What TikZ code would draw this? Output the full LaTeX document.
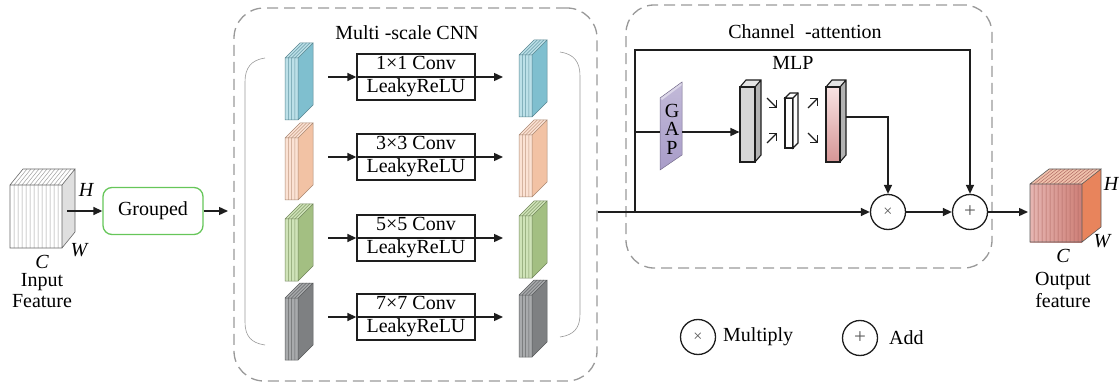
\documentclass[tikz,border=0pt]{standalone}
\usepackage{fontspec}
\setmainfont{Liberation Serif}
\usetikzlibrary{arrows.meta}

\definecolor{blueS}{HTML}{7FBFCF}
\definecolor{blueF}{HTML}{BCE0E8}
\definecolor{peachS}{HTML}{F2C2A4}
\definecolor{peachF}{HTML}{FBE2D4}
\definecolor{greenS}{HTML}{A3BF82}
\definecolor{greenF}{HTML}{CFE3B8}
\definecolor{darkS}{HTML}{7E8082}
\definecolor{darkF}{HTML}{A8AAAC}
\definecolor{frame}{HTML}{999999}
\definecolor{ink}{HTML}{1E1E1E}
\definecolor{gapC}{HTML}{A89CC8}
\definecolor{boxgreen}{HTML}{66C659}
\definecolor{outSide}{HTML}{E8845C}
\definecolor{outTop}{HTML}{F0C2AC}
\definecolor{outL}{HTML}{E6B6B2}
\definecolor{outR}{HTML}{CE7F77}
\definecolor{outLine}{HTML}{B06A64}
\definecolor{pinkT}{HTML}{F8E2E2}
\definecolor{pinkB}{HTML}{D69696}

\tikzset{
  line/.style={draw=ink, line width=1.4pt},
  arr/.style={line, -{Triangle[length=9pt,width=8pt]}},
  dashbox/.style={draw=frame, line width=1.3pt, dash pattern=on 11pt off 6pt,
                  rounded corners=30pt, inner sep=0pt},
  convbox/.style={draw=ink, line width=1.3pt, minimum width=118pt, minimum height=46pt,
                  inner sep=0pt, align=center, font=\fontsize{20}{23}\selectfont},
  lbl/.style={font=\fontsize{20}{22}\selectfont, inner sep=0pt},
  itlbl/.style={font=\fontsize{20}{22}\selectfont\itshape, inner sep=0pt},
  opnode/.style={circle, draw=ink, line width=1.3pt, minimum size=35pt, inner sep=0pt,
                 font=\fontsize{16}{16}\selectfont, text=ink!75},
  plusnode/.style={opnode, font=\fontsize{21}{21}\selectfont},
  tinyarr/.style={draw=ink, line width=1.3pt, -{Straight Barb[length=5pt,width=10pt]}},
  bracket/.style={draw=gray!80, line width=0.6pt},
  pics/slab/.style n args={2}{code={
    \fill[#2] (0,0) rectangle (13,62);
    \fill[#2] (0,0) -- (15,-15) -- (28,-15) -- (13,0) -- cycle;
    \fill[#1] (13,0) -- (28,-15) -- (28,47) -- (13,62) -- cycle;
    \foreach \s in {3.25,6.5,9.75}
      \draw[#1!80!black, line width=0.5pt] (\s,62) -- (\s,0) -- ++(15,-15);
    \draw[#1!70!black, line width=0.5pt] (0,0) rectangle (13,62)
      (0,0) -- (15,-15) -- (28,-15) -- (13,0) (28,-15) -- (28,47) -- (13,62);
  }}
}

\begin{document}
\begin{tikzpicture}[x=1pt, y=-1pt]
\useasboundingbox (0,0) rectangle (1120,385);

% ---------- input feature cube ----------
\fill[white] (10,185) rectangle (62,248);
\fill[white] (10,185) -- (23,169) -- (75,169) -- (62,185) -- cycle;
\fill[gray!25] (62,185) -- (75,169) -- (75,232) -- (62,248) -- cycle;
\foreach \k in {1,...,12}
  \draw[gray!75, line width=0.5pt] (10+4*\k,248) -- (10+4*\k,185) -- (23+4*\k,169);
\draw[gray!80!black, line width=0.6pt] (10,185) rectangle (62,248)
  (10,185) -- (23,169) -- (75,169) -- (62,185) (75,169) -- (75,232) -- (62,248);
\node[coordinate] (incube) at (67,211) {};
\node[itlbl] (inH) at (86,190) {H};
\node[itlbl] (inW) at (79,250) {W};
\node[itlbl] (inC) at (42,262) {C};
\node[lbl] (inTxt1) at (42,282) {Input};
\node[lbl] (inTxt2) at (42,301) {Feature};

% ---------- grouping ----------
\node[draw=boxgreen, line width=1.3pt, rounded corners=9pt, minimum width=100pt,
      minimum height=47pt, lbl] (grp) at (153,211) {Grouped};
\draw[arr] (incube) -- (grp.west);

% ---------- multi-scale CNN ----------
\node[dashbox, minimum width=363pt, minimum height=373pt] (ms) at (415.5,194.5) {};
\node[lbl] (msT) at (407,33) {Multi -scale CNN};
\node[coordinate] (msin) at (228,211) {};
\draw[arr] (grp.east) -- (msin);

\draw[bracket] (265,58) .. controls (251,60) and (245,68) .. (245,82)
  -- (245,322) .. controls (245,336) and (251,343) .. (265,345);
\draw[bracket] (560,52) .. controls (574,54) and (580,62) .. (580,76)
  -- (580,314) .. controls (580,328) and (574,335) .. (560,337);

\foreach \r/\ay/\kk/\cs/\cf in {1/77/1×1/blueS/blueF, 2/157/3×3/peachS/peachF,
                                 3/238/5×5/greenS/greenF, 4/317/7×7/darkS/darkF} {
  \pic (L\r) at (285,\ay-19) {slab={\cs}{\cf}};
  \pic (R\r) at (519,\ay-22) {slab={\cs}{\cf}};
  \node[convbox] (cv\r) at (416,\ay) {\kk{} Conv\\LeakyReLU};
  \draw[line, line width=1.1pt] (cv\r.west) -- (cv\r.east);
  \node[coordinate] (li\r) at (328,\ay) {};
  \node[coordinate] (ro\r) at (503,\ay) {};
  \draw[arr] (li\r) -- (cv\r.west);
  \draw[arr] (cv\r.east) -- (ro\r);
}

% ---------- channel attention ----------
\node[dashbox, rounded corners=28pt, minimum width=366pt, minimum height=263pt] (ca) at (809,136.5) {};
\node[lbl] (caT) at (805,32) {Channel \ -attention};
\node[lbl] (mlpT) at (793,63) {MLP};

% GAP panel
\shade[top color=gapC!70, bottom color=gapC] (660,98) -- (682,82) -- (682,155) -- (660,170) -- cycle;
\fill[gapC!40] (660,98) -- (682,82) -- (682,85) -- (662,100) -- cycle;
\draw[gapC!70!black, line width=0.5pt] (660,98) -- (682,82) -- (682,155) -- (660,170) -- cycle;
\node[lbl, align=center, font=\fontsize{20}{18.5}\selectfont] (gap) at (672,129) {G\\A\\P};
\node[coordinate] (gapin) at (660,132) {};
\node[coordinate] (gapout) at (682,132) {};

% MLP layers
\fill[gray!20] (740,87) -- (746,80) -- (761,80) -- (755,87) -- cycle;
\fill[gray!60] (755,87) -- (761,80) -- (761,155) -- (755,162) -- cycle;
\node[draw=ink, fill=gray!32, line width=1.1pt, minimum width=15pt, minimum height=75pt,
      inner sep=0pt] (fc1) at (747.5,124.5) {};
\draw[ink, line width=1.1pt] (740,87) -- (746,80) -- (761,80) -- (761,155) -- (755,162) (755,87) -- (761,80);

\node[draw=ink, fill=white, line width=1.1pt, minimum width=8pt, minimum height=50pt,
      inner sep=0pt] (fc2) at (789,123) {};
\draw[ink, line width=1.1pt, fill=white] (785,98) -- (790,93) -- (798,93) -- (798,143) -- (793,148) -- (793,98) -- cycle;
\draw[ink, line width=1.1pt] (793,98) -- (798,93);

\fill[gray!20] (826,87) -- (832,80) -- (846,80) -- (840,87) -- cycle;
\fill[gray!60] (840,87) -- (846,80) -- (846,155) -- (840,162) -- cycle;
\node[draw=ink, top color=pinkT, bottom color=pinkB, line width=1.1pt,
      minimum width=14pt, minimum height=75pt, inner sep=0pt] (fc3) at (833,124.5) {};
\draw[ink, line width=1.1pt] (826,87) -- (832,80) -- (846,80) -- (846,155) -- (840,162) (840,87) -- (846,80);

\draw[tinyarr] (767,98) -- (777,108);
\draw[tinyarr] (767,143) -- (777,133);
\draw[tinyarr] (808,108) -- (818,98);
\draw[tinyarr] (808,133) -- (818,143);

% operators
\node[opnode] (mul) at (888,212) {×};
\node[plusnode] (add) at (970,212) {+};

% connectors
\node[coordinate] (sp) at (635,212) {};
\node[coordinate] (tl) at (635,50) {};
\node[coordinate] (pout) at (846,117) {};
\draw[line] (ms.east |- mul) -- (sp);
\draw[arr] (sp) -- (mul.west);
\draw[line] (sp) |- (gapin);
\draw[arr] (gapout) -- (gapout -| fc1.west);
\draw[arr] (sp) -- (tl) -| (add.north);
\draw[arr] (pout) -| (mul.north);
\draw[arr] (mul) -- (add);

% ---------- output feature cube ----------
\shade[left color=outL, right color=outR] (1030,184) rectangle (1082,242);
\fill[outTop] (1030,184) -- (1049,169) -- (1101,169) -- (1082,184) -- cycle;
\fill[outSide] (1082,184) -- (1101,169) -- (1101,227) -- (1082,242) -- cycle;
\foreach \k in {1,...,12}
  \draw[outLine, line width=0.5pt] (1030+4*\k,242) -- (1030+4*\k,184) -- (1049+4*\k,169);
\draw[gray!70!black, line width=0.6pt] (1030,184) rectangle (1082,242)
  (1030,184) -- (1049,169) -- (1101,169) -- (1082,184) (1101,169) -- (1101,227) -- (1082,242);
\node[coordinate] (outcube) at (1028,212) {};
\draw[arr] (add) -- (outcube);
\node[itlbl] (outH) at (1111,184) {H};
\node[itlbl] (outW) at (1102,241) {W};
\node[itlbl] (outC) at (1063,256) {C};
\node[lbl] (outTxt1) at (1063,281) {Output};
\node[lbl] (outTxt2) at (1063,301) {feature};

% ---------- legend ----------
\node[opnode] (lgm) at (698,337) {×};
\node[lbl, anchor=west] (lgmT) at (723,337) {Multiply};
\node[plusnode] (lga) at (860,338) {+};
\node[lbl, anchor=west] (lgaT) at (889,338) {Add};
\end{tikzpicture}
\end{document}
